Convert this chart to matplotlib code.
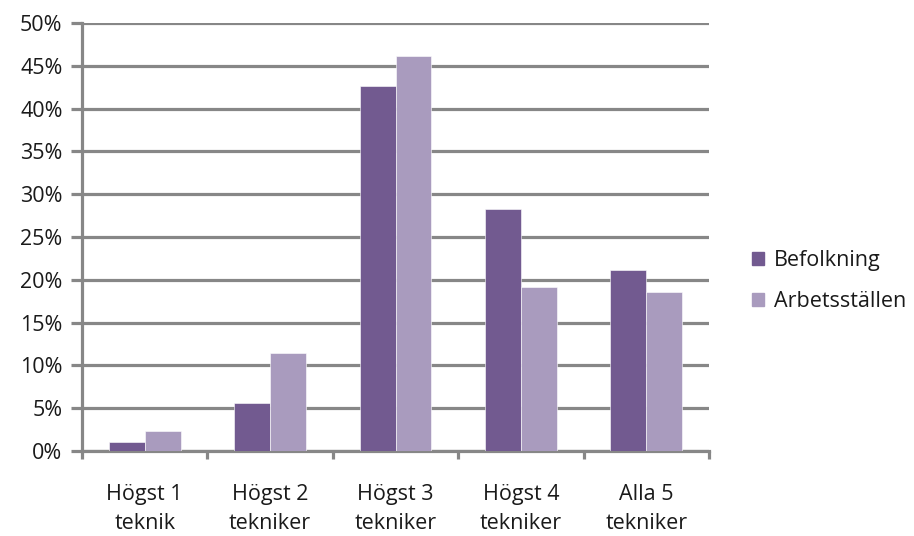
import numpy as np
import matplotlib
matplotlib.use("Agg")
import matplotlib.pyplot as plt
from matplotlib.patches import Patch

categories = ["Högst 1\nteknik", "Högst 2\ntekniker", "Högst 3\ntekniker",
              "Högst 4\ntekniker", "Alla 5\ntekniker"]
befolkning = [1.0, 5.6, 42.6, 28.3, 21.1]
arbetsstallen = [2.3, 11.4, 46.2, 19.2, 18.6]
series_names = ["Befolkning", "Arbetsställen"]
y_ticks = [0, 5, 10, 15, 20, 25, 30, 35, 40, 45, 50]

plt.rcParams['font.family'] = ['Open Sans', 'DejaVu Sans']

c_bef = "#725a90"
c_arb = "#a99bbe"
grid_c = "#878787"
fs = 15.5

fig = plt.figure(figsize=(9.14, 5.36), dpi=100)
ax = fig.add_axes([82/914, 1 - 451/536, (709-82)/914, (451-23)/536])

x = np.arange(len(categories))
w = 1 / 3.5
ax.bar(x - w/2, befolkning, width=w, color=c_bef, edgecolor="white",
       linewidth=0.4, zorder=3)
ax.bar(x + w/2, arbetsstallen, width=w, color=c_arb, edgecolor="white",
       linewidth=0.4, zorder=3)

ax.set_xlim(-0.5, len(categories) - 0.5)
ax.set_ylim(0, 50)
ax.set_yticks(y_ticks)
ax.set_yticklabels([f"{v}%" for v in y_ticks])
ax.yaxis.grid(True, color=grid_c, linewidth=2.3, zorder=0)
ax.set_axisbelow(True)

ax.set_xticks(x)
ax.set_xticklabels(categories, linespacing=1.5)
ax.set_xticks(np.arange(-0.5, len(categories)), minor=True)
ax.tick_params(axis="x", which="major", length=0, pad=24, labelsize=fs,
               labelcolor="#1a1a1a")
ax.tick_params(axis="x", which="minor", length=6, width=2.3, color=grid_c)
ax.tick_params(axis="y", length=8, width=2.3, color=grid_c, pad=6,
               labelsize=fs, labelcolor="#1a1a1a")

for s in ["top", "right"]:
    ax.spines[s].set_visible(False)
for s in ["left", "bottom"]:
    ax.spines[s].set_color(grid_c)
    ax.spines[s].set_linewidth(2.3)

handles = [Patch(color=c_bef, label=series_names[0]),
           Patch(color=c_arb, label=series_names[1])]
fig.legend(handles=handles, loc="center left",
           bbox_to_anchor=(733/914, 1 - 281/536), frameon=False,
           fontsize=fs, handlelength=0.55, handleheight=0.55,
           handletextpad=0.45, labelspacing=0.9, labelcolor="#1a1a1a")

fig.savefig("out.png", dpi=100)
